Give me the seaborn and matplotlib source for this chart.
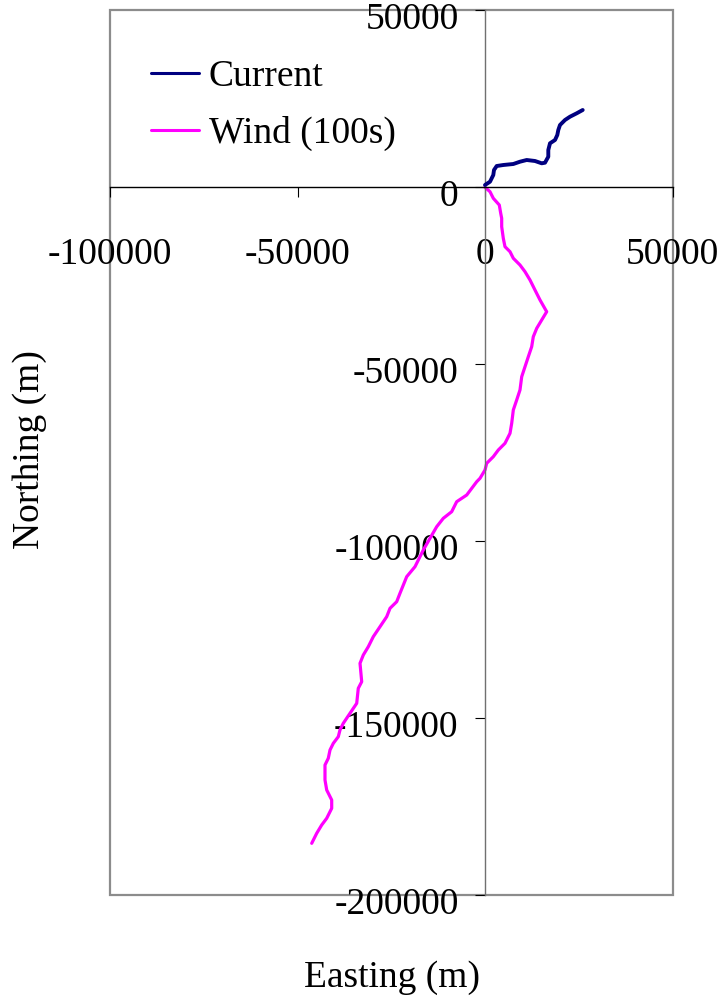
import matplotlib
matplotlib.use("Agg")
import matplotlib.pyplot as plt
import matplotlib.transforms as mtransforms
import seaborn as sns
import pandas as pd
from matplotlib.patches import Rectangle

# ---- data (metres) ----
current_e = [0, 1333, 2213, 2400, 3120, 4880, 7547, 9333, 11120, 13333, 15120, 16000,
             16880, 16880, 17333, 18667, 19280, 19547, 20000, 21333, 22667, 24453, 26053]
current_n = [565, 1497, 3390, 4802, 5932, 6215, 6497, 7147, 7627, 7345, 6695, 6864,
             8559, 10452, 12345, 13277, 14689, 16102, 17514, 18927, 19859, 20819, 21751]

wind_e = [0, 1333, 2213, 3813, 4190, 4450, 4450, 4880, 5330, 6670, 7550, 9330, 10670,
          12000, 13330, 14670, 16450, 15120, 13790, 12880, 12450, 11550, 10670, 9790,
          9330, 8450, 7550, 7120, 6670, 5330, 3550, 2210, 450, 0, -1330, -2210, -4880,
          -7550, -8880, -11120, -12880, -14670, -16450, -18670, -20880, -22670, -23550,
          -25330, -26210, -28000, -29790, -31120, -32450, -33330, -32880, -33790, -34210,
          -36000, -37790, -38670, -39120, -40450, -41330, -41790, -42670, -42670, -42210,
          -40880, -40880, -42210, -43550, -44880, -46210]
wind_n = [-85, -1328, -3192, -5085, -7430, -8840, -11210, -14490, -16860, -18280, -20140,
          -22030, -23930, -26270, -29100, -31920, -35230, -37570, -39920, -42290, -45110,
          -47940, -50760, -53590, -57340, -60170, -62990, -66750, -69580, -72400, -74290,
          -76190, -78050, -79940, -82290, -83250, -87010, -88900, -91720, -93590, -95960,
          -99240, -102540, -107260, -110080, -114770, -117150, -119010, -121380, -124210,
          -127030, -129860, -132200, -134550, -139750, -141610, -145850, -148670, -151500,
          -153390, -155280, -157150, -159040, -161380, -163280, -167510, -170340, -173160,
          -175510, -178330, -180230, -182570, -185400]

x_ticks = [-100000, -50000, 0, 50000]
y_ticks = [50000, 0, -50000, -100000, -150000, -200000]
series_names = ["Current", "Wind (100s)"]

sns.set_style("white")
plt.rcParams['font.family'] = ['Liberation Serif', 'DejaVu Serif']
plt.rcParams['axes.unicode_minus'] = False
plt.rcParams['text.color'] = 'black'

fig = plt.figure(figsize=(7.23, 9.99), dpi=100)
W, H = 723, 999
ax = fig.add_axes([110 / W, 1 - 895 / H, 562.5 / W, 885 / H])

df_c = pd.DataFrame({"e": current_e, "n": current_n})
df_w = pd.DataFrame({"e": wind_e, "n": wind_n})
sns.lineplot(data=df_c, x="e", y="n", sort=False, estimator=None, ax=ax,
             color="#000080", lw=2.8, label=series_names[0], zorder=3)
sns.lineplot(data=df_w, x="e", y="n", sort=False, estimator=None, ax=ax,
             color="#FF00FF", lw=2.3, label=series_names[1], zorder=2)

ax.set_xlim(-100000, 50000)
ax.set_ylim(-200000, 50000)
ax.set_xticks(x_ticks)
ax.set_xticklabels([str(v) for v in x_ticks])
ax.set_yticks(y_ticks)
ax.set_yticklabels([str(v) for v in y_ticks])

ax.spines['left'].set_position('zero')
ax.spines['bottom'].set_position('zero')
ax.spines['top'].set_visible(False)
ax.spines['right'].set_visible(False)
ax.spines['left'].set_color('#707070')
ax.spines['bottom'].set_color('black')
ax.spines['left'].set_linewidth(1.0)
ax.spines['bottom'].set_linewidth(1.0)

ax.tick_params(axis='x', bottom=True, direction='out', length=7, width=0.8,
               color='black', labelcolor='black', labelsize=27, pad=29)
ax.tick_params(axis='y', left=True, direction='out', length=7, width=0.8,
               color='black', labelcolor='black', labelsize=27, pad=12)
ax.set_xlabel("")
ax.set_ylabel("")

# Excel-style: y tick labels sit slightly below their tick
offset = mtransforms.ScaledTranslation(0, -6 / 100, fig.dpi_scale_trans)
for lab in ax.get_yticklabels():
    lab.set_transform(lab.get_transform() + offset)

ax.add_patch(Rectangle((0, 0), 1, 1, transform=ax.transAxes, fill=False,
                       edgecolor='#8c8c8c', lw=1.6, clip_on=False, zorder=0.5))

leg = ax.legend(loc='upper left', bbox_to_anchor=(0.072, 0.944), frameon=False,
                fontsize=27, handlelength=1.3, handletextpad=0.25, labelspacing=0.58,
                borderpad=0, borderaxespad=0)
for line in leg.get_lines():
    line.set_linewidth(2.2)
for t in leg.get_texts():
    t.set_color('black')

fig.text(392 / W, 1 - 978 / H, "Easting (m)", ha='center', va='center', fontsize=27,
         color='black')
fig.text(30 / W, 1 - 450 / H, "Northing (m)", ha='center', va='center',
         rotation=90, fontsize=27, color='black')

fig.savefig("out.png", dpi=100)
